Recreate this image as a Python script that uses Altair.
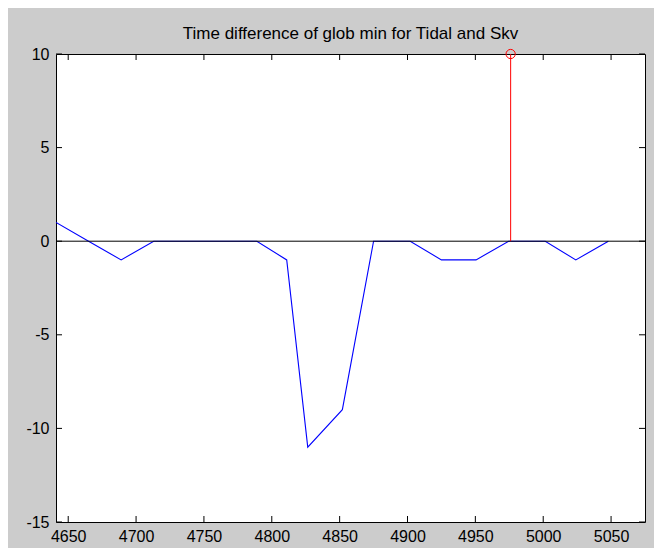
import altair as alt
import pandas as pd

# Blue line: time difference series
line_x = [4641, 4665, 4689, 4713, 4789, 4811, 4826.5, 4852, 4875, 4902, 4925, 4950.5, 4974.5, 5001.5, 5024, 5048]
line_y = [1, 0, -1, 0, 0, -1, -11, -9, 0, 0, -1, -1, 0, 0, -1, 0]

# Red stem
stem_x = [4976]
stem_y = [10]

# Axis settings
x_domain = [4641, 5075]
y_domain = [-15, 10]
x_ticks = [4650, 4700, 4750, 4800, 4850, 4900, 4950, 5000, 5050]
y_ticks = [-15, -10, -5, 0, 5, 10]

title_text = "Time difference of glob min for Tidal and Skv"

W, H = 589, 468
FONT = "Liberation Sans"

line_df = pd.DataFrame({"x": line_x, "y": line_y})
stem_df = pd.DataFrame({"x": stem_x, "y": stem_y, "y0": [0] * len(stem_x)})
xt_df = pd.DataFrame({"x": x_ticks})
yt_df = pd.DataFrame({"y": y_ticks})
base_df = pd.DataFrame({"x": [x_domain[0]], "x2": [x_domain[1]], "y": [0]})

xs = alt.Scale(domain=x_domain, nice=False, zero=False)
ys = alt.Scale(domain=y_domain, nice=False, zero=False)

x_axis = alt.Axis(values=x_ticks, tickSize=0, domain=False, grid=False,
                  labelFont=FONT, labelFontSize=16, labelColor="black",
                  labelPadding=6, labelExpr="'' + datum.value", title=None)
y_axis = alt.Axis(values=y_ticks, tickSize=0, domain=False, grid=False,
                  labelFont=FONT, labelFontSize=16, labelColor="black",
                  labelPadding=7, labelExpr="'' + datum.value", title=None)

line = alt.Chart(line_df).mark_line(color="#0000ff", strokeWidth=1.1, clip=True).encode(
    x=alt.X("x:Q", scale=xs, axis=x_axis),
    y=alt.Y("y:Q", scale=ys, axis=y_axis),
)

baseline = alt.Chart(base_df).mark_rule(color="black", strokeWidth=1).encode(
    x=alt.X("x:Q", scale=xs), x2="x2:Q", y=alt.Y("y:Q", scale=ys)
)

stem = alt.Chart(stem_df).mark_rule(color="#ff0000", strokeWidth=1).encode(
    x=alt.X("x:Q", scale=xs), y=alt.Y("y0:Q", scale=ys), y2="y:Q"
)

marker = alt.Chart(stem_df).mark_point(shape="circle", filled=False, color="#ff0000",
                                       size=85, strokeWidth=1, opacity=1).encode(
    x=alt.X("x:Q", scale=xs), y=alt.Y("y:Q", scale=ys)
)

tick_len = 6
xt_bottom = alt.Chart(xt_df).mark_rule(color="black", strokeWidth=1).encode(
    x=alt.X("x:Q", scale=xs), y=alt.value(H), y2=alt.value(H - tick_len))
xt_top = alt.Chart(xt_df).mark_rule(color="black", strokeWidth=1).encode(
    x=alt.X("x:Q", scale=xs), y=alt.value(0), y2=alt.value(tick_len))
yt_left = alt.Chart(yt_df).mark_rule(color="black", strokeWidth=1).encode(
    y=alt.Y("y:Q", scale=ys), x=alt.value(0), x2=alt.value(tick_len))
yt_right = alt.Chart(yt_df).mark_rule(color="black", strokeWidth=1).encode(
    y=alt.Y("y:Q", scale=ys), x=alt.value(W), x2=alt.value(W - tick_len))

chart = alt.layer(line, baseline, stem, marker, xt_bottom, xt_top, yt_left, yt_right).properties(
    width=W, height=H,
    title=alt.TitleParams(title_text, font=FONT, fontSize=17, fontWeight="normal",
                          color="black", anchor="middle", offset=3),
    background="#cccccc",
    padding={"left": 48, "top": 46, "right": 9, "bottom": 26},
    autosize=alt.AutoSizeParams(type="none"),
).configure_view(stroke="black", strokeWidth=1, fill="white")

chart.save("out.html", embed_options={"renderer": "svg", "actions": False})
